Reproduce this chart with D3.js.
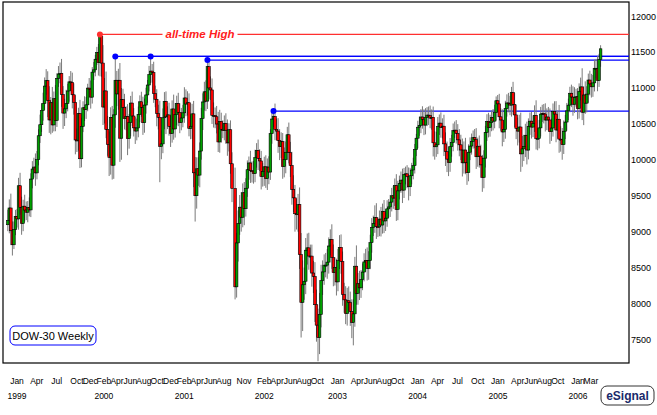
<!DOCTYPE html>
<html>
<head>
<meta charset="utf-8">
<script src="https://cdn.jsdelivr.net/npm/d3@7"></script>
<style>
  body { margin: 0; background: #fff; }
  text { font-family: Arial, "Liberation Sans", sans-serif; }
</style>
</head>
<body>
<svg id="chart"></svg>
<script>
// weekly closes, first week ends Fri Nov 20 1998 (null = market closed)
const closes = [
  9160,9333,9016,8821,9035,9217,9181,
  9643,9340,9120,9358, 9304,9274,9340,9306, 9736,9876,9903,9822, 10007,10339,10493,10689,10789, 11031,11107,10829,10559, 10799,10490,10855,10552, 11139,11200,11209,10911,10655, 10714,10789,10963,11090, 11078,10910,10803,10280, 10273,10649,10019,10470,10729, 10704,10770,11003,10988, 10877,11225,11257,11405,11497,
  11357,11723,11351,10739, 10963,10425,10220,10038, 10595,9929,10630,11112,10922, 11112,10305,10844,10733, 10577,10609,10299,10522, 10794,10614,10449,10405,10448, 10636,10812,10733,10521, 10767,10908,11046,11192, 11239,11220,10927,10847,10651, 10596,10192,10226,10590, 10817,10602,10629,10470, 10373,10712,10434,10635,10787,
  10662,10525,10587,10659, 10865,10781,10799,10441, 10466,10644,9823,9504,9879, 9791,10126,10579,10810, 10951,10822,11301,11005, 10977,10623,10623,10604,10502, 10253,10540,10424,10416, 10512,10416,10240,10423,9949, 9605,null,8235,8847, 9119,9344,9204,9545, 9323,9608,9866,9960,9852, 9848,9812,10035,10136,
  10022,9988,9771,9841, 9907,9744,9903,9834, 10368,10572,10607,10427,10404, 10271,10190,10257,9910, 10006,10109,10353,10104,9925, 9589,9474,9253,9243, 9379,8684,8019,8264, 8313,8745,8778,8663,8663, 8427,8379,7986,7701, 7528,7850,8322,8443, 8537,8537,8579,8804,8896, 8645,8433,8507,8304,
  8602,8785,8587,8131,8054, 7865,8041,8018,7891, 7740,7859,8522,8145, 8278,8221,8338,8441, 8582,8604,8493,8601,8850, 9062,9117,9200,9072, 9070,9178,9096,9284, 9153,9191,9321,9348,9415, 9503,9471,9644,9313, 9572,9674,9721,9582,9801, 9809,9768,9629,9782, 9862,9923,10145,10305,
  10458,10485,10600,10568,10488, 10593,10627,10619,10584, 10596,10241,10186,10213, 10470,10515,10452,10472,10226, 10118,10013,9967,10188, 10243,10410,10417,10371, 10282,10213,10140,9962,10140, 9963,9825,10110,10196, 10260,10313,10285,10047, 10193,10055,9933,9758,10027, 10387,10539,10456,10522, 10592,10543,10661,10827,10783,
  10603,10558,10392,10428, 10716,10796,10785,10766, 10940,10774,10629,10442, 10404,10461,10087,10157,10192, 10346,10140,10471,10542, 10460,10512,10623,10297, 10303,10449,10641,10651,10641, 10558,10600,10559,10397, 10447,10679,10641,10419,10569, 10292,10287,10215,10402, 10530,10686,10766,10931, 10878,10778,10875,10883,10718,
  10959,11019,10667,10907, 10793,10919,11115,11061, 11021,11076,11279,11279,11109, 11400,11550
];
// how far each week's high reaches above the body
const upWick = [
  150,120,200,130,110,90,100,
  110,180,150,90, 160,120,90,140, 80,110,130,190, 120,90,140,100,150, 120,160,130,200, 80,220,100,190, 70,110,150,200,120, 140,190,100,80, 150,140,160,100, 160,80,190,120,90, 160,110,60,140, 120,70,110,60,80,
  120,27,20,250, 180,270,190,180, 140,160,80,332,130, 160,240,160,150, 190,140,170,120, 100,160,110,150,130, 110,90,140,150, 90,100,70,120, 205,100,150,110,140, 120,230,190,130, 130,140,120,170, 150,120,200,160,110,
  150,130,140,110, 150,120,160,130, 170,140,180,220,160, 160,120,150,120, 140,160,92,120, 160,160,180,110,150, 170,160,120,130, 110,140,150,90,130, 160,0,290,140, 180,170,210,130, 150,140,130,90,170, 130,140,110,100,
  150,130,140,120, 140,160,120,150, 60,120,76,180,150, 180,160,130,120, 170,150,110,170,150, 190,200,180,210, 150,240,300,340, 190,170,200,210,160, 160,170,200,210, 230,300,220,160, 150,170,180,120,140, 210,180,140,120,
  160,170,180,140,160, 190,180,200,150, 170,200,130,290, 150,180,130,120, 120,160,180,130,110, 130,110,170,200, 130,120,170,110, 160,130,120,110,100, 110,140,100,160, 140,110,120,160,90, 100,120,130,110, 100,110,80,60,
  90,120,110,150,140, 130,110,120,140, 110,150,160,180, 130,120,150,110,160, 160,140,170,120, 110,100,120,140, 130,150,140,160,120, 170,140,110,120, 110,100,120,160, 120,150,160,140,110, 90,100,120,110, 100,120,110,60,80,
  140,120,150,130, 110,120,140,110, 80,150,160,140, 150,170,200,180,160, 160,190,110,120, 130,110,140,210, 140,110,100,120,130, 150,120,140,160, 130,110,140,180,120, 200,180,160,150, 100,110,90,90, 120,150,140,110,120,
  110,130,260,120, 190,110,90,130, 140,110,120,130,170, 80,50
];
// how far each week's low reaches below the body
const downWick = [
  90,180,200,150,60,80,120,
  150,100,160,110, 160,110,140,90, 100,130,120,180, 90,80,100,100,140, 90,120,230,180, 200,110,90,150, 90,120,130,170,220, 180,130,110,150, 110,190,170,200, 160,140,130,120,80, 160,130,90,110, 160,90,110,90,80,
  180,190,190,250, 230,120,160,260, 240,200,190,180,170, 220,330,300,160, 150,160,230,140, 190,140,120,180,130, 130,110,130,170, 140,120,110,90, 120,140,130,110,180, 170,500,180,130, 160,240,170,130, 190,130,150,120,150,
  190,150,110,130, 140,170,160,110, 150,170,200,360,180, 150,170,120,160, 120,140,110,160, 140,120,170,160,130, 140,150,180,110, 140,190,180,120,140, 190,0,175,150, 260,160,200,140, 230,110,120,140,170, 160,140,120,140,
  160,140,180,140, 200,130,160,170, 110,140,110,150,130, 170,190,160,170, 150,190,110,150,160, 210,200,250,210, 240,200,490,400, 210,180,200,190,220, 190,230,240,230, 330,230,180,200, 180,170,190,160,130, 160,190,180,190,
  130,120,170,160,180, 150,170,160,200, 220,320,180,160, 160,170,140,150, 130,140,170,160,120, 140,120,130,170, 140,130,160,120, 170,140,120,130,140, 130,150,110,160, 150,120,130,180,110, 140,160,190,130, 120,130,110,90,
  140,120,110,130,140, 130,120,130,140, 160,190,180,140, 130,120,140,150,170, 200,180,190,130, 140,120,100,140, 150,160,140,190,150, 160,170,120,110, 120,100,120,170, 140,160,180,200,150, 130,120,140,130, 120,130,100,110,120,
  160,150,200,140, 130,110,120,140, 160,140,170,150, 200,160,250,180,170, 150,200,130,120, 160,140,120,150, 160,140,120,110,130, 160,140,150,170, 130,120,160,170,120, 190,170,210,130, 110,120,130,100, 140,160,120,130,150,
  140,130,110,180, 150,130,120,160, 150,140,120,140,150, 90,100
];

const yTicks = [7500, 8000, 8500, 9000, 9500, 10000, 10500, 11000, 11500, 12000];
const monthTicks = [
  ["Jan","1999-01-01"],["Apr","1999-04-01"],["Jul","1999-07-01"],["Oct","1999-10-01"],["Dec","1999-12-01"],
  ["Feb","2000-02-01"],["Apr","2000-04-01"],["Jun","2000-06-01"],["Aug","2000-08-01"],["Oct","2000-10-01"],["Dec","2000-12-01"],
  ["Feb","2001-02-01"],["Apr","2001-04-01"],["Jun","2001-06-01"],["Aug","2001-08-01"],["Nov","2001-11-01"],
  ["Feb","2002-02-01"],["Apr","2002-04-01"],["Jun","2002-06-01"],["Aug","2002-08-01"],["Oct","2002-10-01"],
  ["Jan","2003-01-01"],["Apr","2003-04-01"],["Jun","2003-06-01"],["Aug","2003-08-01"],["Oct","2003-10-01"],
  ["Jan","2004-01-01"],["Apr","2004-04-01"],["Jul","2004-07-01"],["Oct","2004-10-01"],
  ["Jan","2005-01-01"],["Apr","2005-04-01"],["Jun","2005-06-01"],["Aug","2005-08-01"],["Oct","2005-10-01"],
  ["Jan","2006-01-01"],["Mar","2006-03-01"]
];
const yearTicks = [["1999","1999-01-01"],["2000","2000-02-01"],["2001","2001-02-01"],["2002","2002-02-01"],
  ["2003","2003-01-01"],["2004","2004-01-01"],["2005","2005-01-01"],["2006","2006-01-01"]];
// highs marked with a dot and a horizontal level line
const levels = [
  { date: "2000-01-14", value: 11750, color: "#ff3030", label: "all-time High" },
  { date: "2000-03-24", value: 11444, color: "#0000ff" },
  { date: "2000-09-01", value: 11444, color: "#0000ff" },
  { date: "2001-05-18", value: 11393, color: "#0000ff" },
  { date: "2002-03-15", value: 10683, color: "#0000ff" }
];

const width = 657, height = 415;
const plot = { left: 3, right: 629, top: 2, bottom: 363 };
const parse = d3.utcParse("%Y-%m-%d");
const firstWeek = parse("1998-11-20");

const svg = d3.select("#chart").attr("width", width).attr("height", height);

const x = d3.scaleUtc()
    .domain([parse("1999-01-01"), parse("2006-01-01")])
    .range([17, 578]);
const y = d3.scaleLinear()
    .domain([7500, 12000])
    .range([339.6, 16.5]);

// build candles: open is last week's close
const candles = [];
let prev = closes[0];
closes.forEach((c, i) => {
    if (c == null) return;
    const o = i === 0 ? c - 60 : prev;
    const d = d3.utcDay.offset(firstWeek, i * 7);
    candles.push({ date: d, o, c,
        h: Math.max(o, c) + (upWick[i] ?? 100),
        l: Math.min(o, c) - (downWick[i] ?? 100) });
    prev = c;
});

// frame
svg.append("rect")
    .attr("x", plot.left).attr("y", plot.top)
    .attr("width", plot.right - plot.left).attr("height", plot.bottom - plot.top)
    .attr("fill", "#fff").attr("stroke", "#000").attr("stroke-width", 1.2);

// level lines
levels.forEach(lv => {
    svg.append("line")
        .attr("x1", x(parse(lv.date))).attr("x2", plot.right)
        .attr("y1", y(lv.value)).attr("y2", y(lv.value))
        .attr("stroke", lv.color).attr("stroke-width", 1.2);
});
const ath = levels[0];
const label = svg.append("text")
    .attr("x", 200).attr("y", y(ath.value) + 4)
    .attr("text-anchor", "middle")
    .attr("fill", "#ff2020").attr("font-size", 11.5)
    .attr("font-style", "italic").attr("font-weight", "bold")
    .text(ath.label);
const bb = label.node().getBBox();
svg.insert("rect", "text")
    .attr("x", bb.x - 3).attr("y", bb.y).attr("width", bb.width + 6).attr("height", bb.height)
    .attr("fill", "#fff");

// candles
const g = svg.append("g");
g.selectAll("line.wick").data(candles).enter().append("line")
    .attr("class", "wick")
    .attr("x1", d => x(d.date)).attr("x2", d => x(d.date))
    .attr("y1", d => y(d.h)).attr("y2", d => y(d.l))
    .attr("stroke", "#7a7a7a").attr("stroke-width", 1);
g.selectAll("rect.body").data(candles).enter().append("rect")
    .attr("class", "body")
    .attr("x", d => x(d.date) - 1.3)
    .attr("width", 2.6)
    .attr("y", d => y(Math.max(d.o, d.c)))
    .attr("height", d => Math.max(1, Math.abs(y(d.o) - y(d.c))))
    .attr("fill", d => d.c >= d.o ? "#00a000" : "#ff0000")
    .attr("stroke", "#000").attr("stroke-width", 0.6);

// dots on the marked highs
svg.selectAll("circle.lv").data(levels).enter().append("circle")
    .attr("cx", d => x(parse(d.date))).attr("cy", d => y(d.value))
    .attr("r", 3).attr("fill", d => d.color);

// right axis labels
svg.selectAll("text.yt").data(yTicks).enter().append("text")
    .attr("x", plot.right + 2).attr("y", d => y(d) + 3)
    .attr("font-size", 9).attr("fill", "#000")
    .text(d => d);

// bottom axis labels
svg.selectAll("text.mt").data(monthTicks).enter().append("text")
    .attr("x", d => x(parse(d[1]))).attr("y", 384)
    .attr("text-anchor", "middle").attr("font-size", 8.5)
    .text(d => d[0]);
svg.selectAll("text.yr").data(yearTicks).enter().append("text")
    .attr("x", d => x(parse(d[1]))).attr("y", 399)
    .attr("text-anchor", "middle").attr("font-size", 8.5)
    .text(d => d[0]);

// legend box
svg.append("rect")
    .attr("x", 10).attr("y", 326).attr("width", 86).attr("height", 19).attr("rx", 5)
    .attr("fill", "#fff").attr("stroke", "#0000ff").attr("stroke-width", 1);
svg.append("text").attr("x", 53).attr("y", 339.5)
    .attr("text-anchor", "middle").attr("font-size", 11).text("DOW-30 Weekly");

// eSignal badge
svg.append("rect")
    .attr("x", 601).attr("y", 386).attr("width", 53).attr("height", 19).attr("rx", 6)
    .attr("fill", "#fff").attr("stroke", "#333").attr("stroke-width", 1);
svg.append("text").attr("x", 627.5).attr("y", 400)
    .attr("text-anchor", "middle").attr("font-size", 12).attr("font-weight", "bold")
    .attr("font-family", "'Liberation Serif', 'DejaVu Serif', serif").attr("fill", "#1a2a6a")
    .text("eSignal");
</script>
</body>
</html>
